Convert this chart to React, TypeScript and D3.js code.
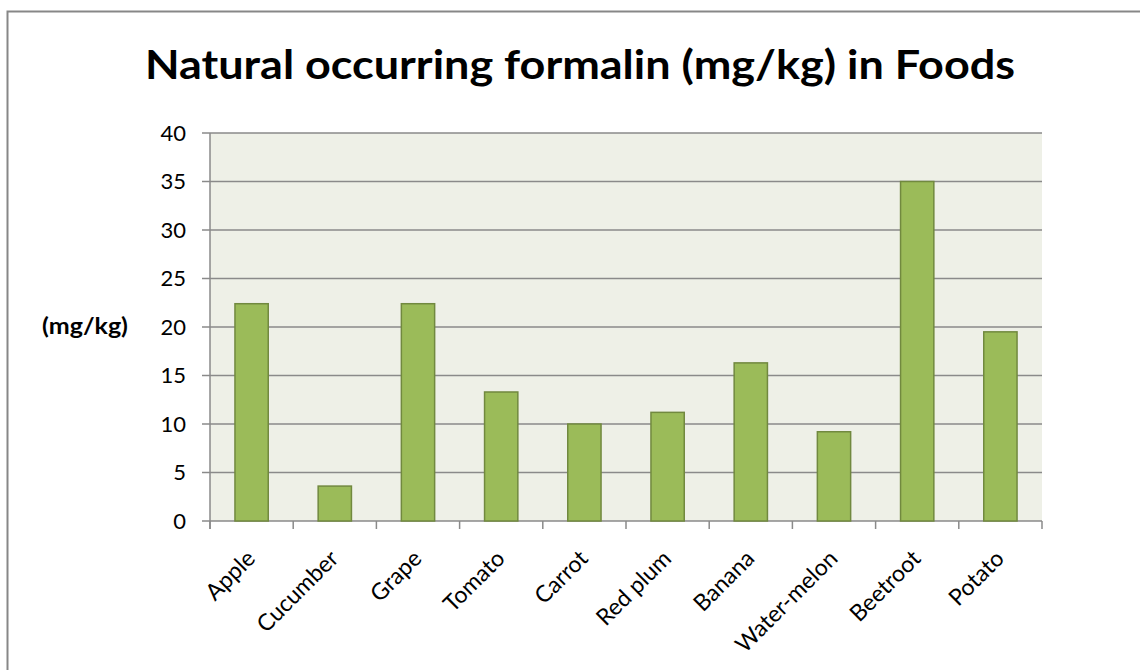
import React from 'react';
import * as d3 from 'd3';

// values
const foods = ['Apple', 'Cucumber', 'Grape', 'Tomato', 'Carrot', 'Red plum', 'Banana', 'Water-melon', 'Beetroot', 'Potato'];
const formalin = [22.4, 3.6, 22.4, 13.3, 10.0, 11.2, 16.3, 9.2, 35.0, 19.5];
const yTicks = [0, 5, 10, 15, 20, 25, 30, 35, 40];

const W = 1140;
const H = 670;
const margin = { top: 133, right: 98, bottom: 149, left: 210 };
const FONT = 'Lato, "Open Sans", sans-serif';

const App: React.FC = () => {
  const innerWidth = W - margin.left - margin.right;
  const innerHeight = H - margin.top - margin.bottom;

  const x = d3.scaleBand<string>()
    .domain(foods)
    .range([0, innerWidth])
    .paddingInner(0.6)
    .paddingOuter(0.3);

  // band edges for category ticks
  const step = innerWidth / foods.length;

  const y = d3.scaleLinear()
    .domain([0, 40])
    .range([innerHeight, 0]);

  return (
    <div style={{ position: 'absolute', left: 0, top: 0 }}>
      <svg width={W} height={H} style={{ display: 'block', background: '#fff' }}>
        {/* chart area border */}
        <rect x={7.5} y={11.5} width={W + 10} height={H + 10} fill="#fff" stroke="#878787" strokeWidth={2} />

        <text
          x={580}
          y={79}
          textAnchor="middle"
          fontFamily={FONT}
          fontWeight="bold"
          fontSize={41}
          textLength={870}
          lengthAdjust="spacingAndGlyphs"
          fill="#000"
        >
          Natural occurring formalin (mg/kg) in Foods
        </text>

        <text
          x={85}
          y={334}
          textAnchor="middle"
          fontFamily={FONT}
          fontWeight="bold"
          fontSize={22}
          textLength={86}
          lengthAdjust="spacingAndGlyphs"
          fill="#000"
        >
          (mg/kg)
        </text>

        <g transform={`translate(${margin.left}, ${margin.top})`}>
          <rect x={0} y={0} width={innerWidth} height={innerHeight} fill="#eef0e7" />

          {/* Gridlines + y labels */}
          {yTicks.map(t => (
            <g key={t}>
              <line x1={-8} x2={innerWidth} y1={y(t)} y2={y(t)} stroke="#8a8a8a" strokeWidth={1.5} />
              <text
                x={-24}
                y={y(t)}
                dy="0.36em"
                textAnchor="end"
                fontFamily={FONT}
                fontSize={22}
                fill="#000"
              >
                {t}
              </text>
            </g>
          ))}

          {/* Axis lines */}
          <line x1={0} x2={0} y1={0} y2={innerHeight + 8} stroke="#8a8a8a" strokeWidth={1.5} />
          {d3.range(foods.length + 1).map(i => (
            <line
              key={i}
              x1={i * step}
              x2={i * step}
              y1={innerHeight}
              y2={innerHeight + 8}
              stroke="#8a8a8a"
              strokeWidth={1.5}
            />
          ))}

          {/* Bars */}
          {foods.map((f, i) => (
            <rect
              key={f}
              x={x(f)}
              y={y(formalin[i])}
              width={x.bandwidth()}
              height={innerHeight - y(formalin[i])}
              fill="#9bbb59"
              stroke="#71893f"
              strokeWidth={1.5}
            />
          ))}

          {/* Category labels */}
          {foods.map(f => {
            const cx = (x(f) ?? 0) + x.bandwidth() / 2 + 5;
            const cy = innerHeight + 39;
            return (
              <text
                key={f}
                transform={`translate(${cx}, ${cy}) rotate(-45)`}
                textAnchor="end"
                fontFamily={FONT}
                fontSize={23}
                fill="#000"
              >
                {f}
              </text>
            );
          })}
        </g>
      </svg>
    </div>
  );
};

export default App;
